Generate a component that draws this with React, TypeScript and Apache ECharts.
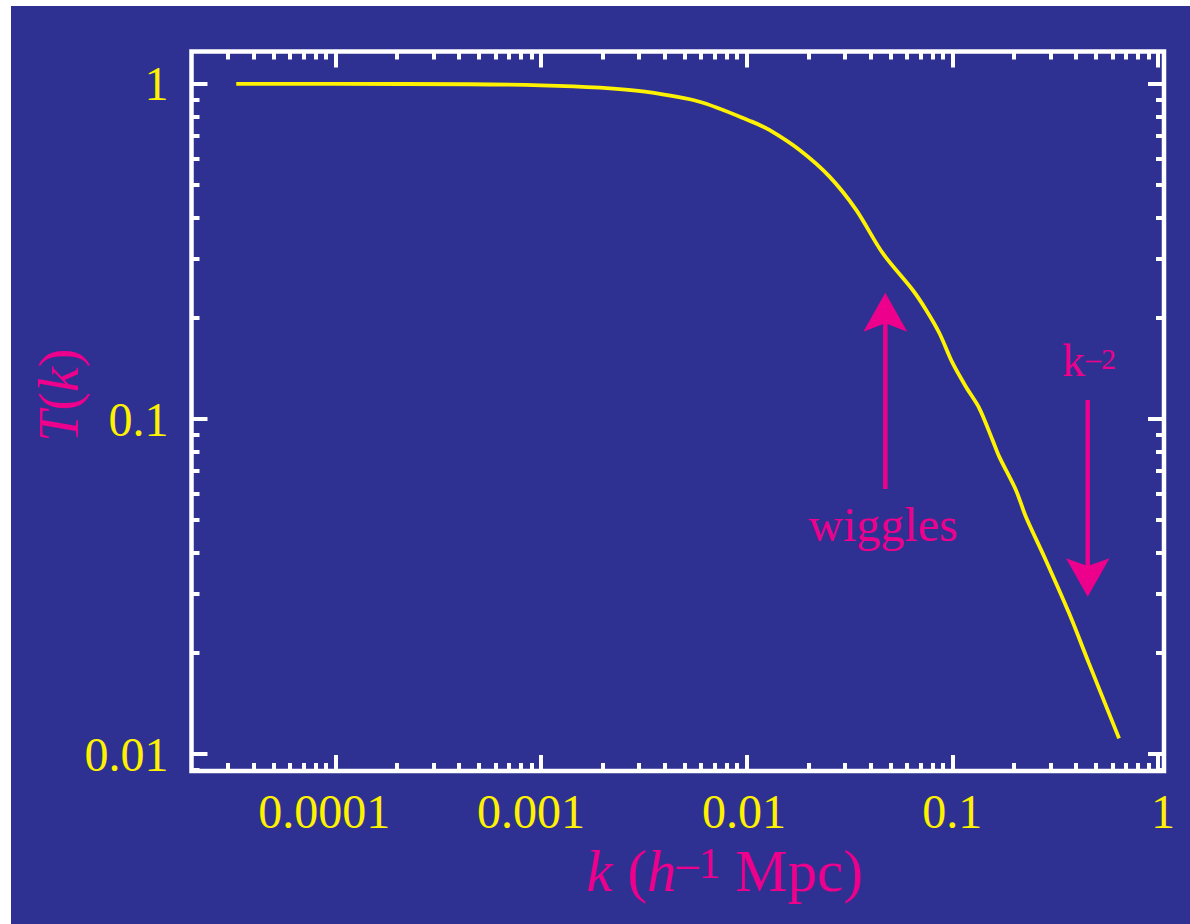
import React, { useEffect, useRef } from 'react';
import * as echarts from 'echarts';

// ---- data ----
const kValues = [
  3.3e-5, 1e-4, 4.5e-4, 1e-3, 1.93e-3, 3.2e-3, 5.9e-3, 0.0106, 0.0129, 0.0181,
  0.0253, 0.0341, 0.0459, 0.0642, 0.0746, 0.0865, 0.1003, 0.1165, 0.1352,
  0.1569, 0.1691, 0.2038, 0.2279, 0.285, 0.37, 0.462, 0.647,
];
const tValues = [
  1.0, 1.0, 0.998, 0.991, 0.975, 0.948, 0.885, 0.772, 0.729, 0.635,
  0.529, 0.421, 0.3125, 0.2427, 0.2116, 0.1806, 0.147, 0.1248, 0.1078,
  0.0866, 0.0772, 0.0614, 0.0511, 0.0379, 0.0263, 0.01865, 0.01114,
];

const xMajorTicks = [0.0001, 0.001, 0.01, 0.1, 1];
const xTickLabels = ['0.0001', '0.001', '0.01', '0.1', '1'];
const xMinorTicks = [
  0.00003, 0.00004, 0.00005, 0.00006, 0.00007, 0.00008, 0.00009,
  0.0002, 0.0003, 0.0004, 0.0005, 0.0006, 0.0007, 0.0008, 0.0009,
  0.002, 0.003, 0.004, 0.005, 0.006, 0.007, 0.008, 0.009,
  0.02, 0.03, 0.04, 0.05, 0.06, 0.07, 0.08, 0.09,
  0.2, 0.3, 0.4, 0.5, 0.6, 0.7, 0.8, 0.9,
];
const yMajorTicks = [0.01, 0.1, 1];
const yTickLabels = ['0.01', '0.1', '1'];
const yMinorTicks = [
  0.009,
  0.02, 0.03, 0.04, 0.05, 0.06, 0.07, 0.08, 0.09,
  0.2, 0.3, 0.4, 0.5, 0.6, 0.7, 0.8, 0.9,
];

// horizontal nudges (px) of the x tick labels, as placed in the reference
const xLabelShift = [-11, -10, -2.5, 0, 5];

const X_MIN = 2e-5;
const X_MAX = 1.07;
const Y_MIN = 0.0089;
const Y_MAX = 1.25;

const BG = '#2E3192';
const YELLOW = '#FFF200';
const MAGENTA = '#EC008C';
const FONT = "'Liberation Serif', 'Times New Roman', serif";

function findIndex(v: number, ticks: number[]) {
  return ticks.findIndex((t) => Math.abs(Math.log10(t) - Math.log10(v)) < 1e-6);
}

function makeAxis(
  kind: 'x' | 'y',
  position: string,
  values: number[],
  len: number,
  label: any,
  extra: any = {}
) {
  return {
    type: 'log',
    logBase: 10,
    min: kind === 'x' ? X_MIN : Y_MIN,
    max: kind === 'x' ? X_MAX : Y_MAX,
    position,
    gridIndex: 0,
    axisLine: { show: false, onZero: false },
    splitLine: { show: false },
    minorTick: { show: false },
    minorSplitLine: { show: false },
    axisTick: {
      show: true,
      inside: true,
      length: len,
      customValues: values,
      lineStyle: { color: '#ffffff', width: 4 },
    },
    axisLabel: label || { show: false },
    ...extra,
  };
}

export default function App() {
  const ref = useRef<HTMLDivElement>(null);

  useEffect(() => {
    if (!ref.current) return;
    const chart = echarts.init(ref.current, undefined, { renderer: 'svg' });

    const xRich: any = {};
    xLabelShift.forEach((d, i) => {
      xRich['s' + i] = {
        color: YELLOW,
        fontFamily: FONT,
        fontSize: 48,
        padding: d < 0 ? [0, -2 * d, 0, 0] : [0, 0, 0, 2 * d],
      };
    });

    const xLabel = {
      show: true,
      customValues: xMajorTicks,
      color: YELLOW,
      fontFamily: FONT,
      fontSize: 48,
      margin: 16,
      rich: xRich,
      formatter: (v: number) => {
        const i = findIndex(v, xMajorTicks);
        return i >= 0 ? `{s${i}|${xTickLabels[i]}}` : '';
      },
    };
    const yLabel = {
      show: true,
      customValues: yMajorTicks,
      color: YELLOW,
      fontFamily: FONT,
      fontSize: 48,
      margin: 23,
      formatter: (v: number) => {
        const i = findIndex(v, yMajorTicks);
        return i >= 0 ? yTickLabels[i] : '';
      },
    };

    const option: any = {
      animation: false,
      textStyle: { fontFamily: FONT },
      grid: {
        left: 191.5,
        right: 26,
        top: 51.5,
        bottom: 153,
        show: true,
        borderColor: '#ffffff',
        borderWidth: 4.5,
        backgroundColor: 'transparent',
        containLabel: false,
        outerBoundsMode: 'none',
      },
      xAxis: [
        makeAxis('x', 'bottom', xMajorTicks, 16, xLabel, {
          name: '{i|k}{n| (}{i|h}{s|–1}{n| Mpc)}',
          nameLocation: 'middle',
          nameGap: 70,
          nameMoveOverlap: false,
          nameTextStyle: {
            color: MAGENTA,
            fontFamily: FONT,
            fontSize: 58,
            padding: [0, 0, 0, 94],
            rich: {
              i: { fontStyle: 'italic', fontSize: 59, color: MAGENTA, fontFamily: FONT },
              n: { fontSize: 59, color: MAGENTA, fontFamily: FONT },
              s: {
                fontSize: 44,
                color: MAGENTA,
                fontFamily: FONT,
                lineHeight: 42,
                verticalAlign: 'top',
              },
            },
          },
        }),
        makeAxis('x', 'bottom', xMinorTicks, 8, null),
        makeAxis('x', 'top', xMajorTicks, 16, null),
        makeAxis('x', 'top', xMinorTicks, 8, null),
      ],
      yAxis: [
        makeAxis('y', 'left', yMajorTicks, 16, yLabel, {
          name: '{i|T}{n|(}{i|k}{n|)}',
          nameLocation: 'middle',
          nameGap: 105,
          nameMoveOverlap: false,
          nameTextStyle: {
            color: MAGENTA,
            fontFamily: FONT,
            fontSize: 56,
            padding: [0, 0, 0, 32],
            rich: {
              i: { fontStyle: 'italic', fontSize: 56, color: MAGENTA, fontFamily: FONT },
              n: { fontSize: 56, color: MAGENTA, fontFamily: FONT },
            },
          },
        }),
        makeAxis('y', 'left', yMinorTicks, 8, null),
        makeAxis('y', 'right', yMajorTicks, 16, null),
        makeAxis('y', 'right', yMinorTicks, 8, null),
      ],
      series: [
        {
          type: 'line',
          xAxisIndex: 0,
          yAxisIndex: 0,
          data: kValues.map((k, i) => [k, tValues[i]]),
          showSymbol: false,
          smooth: 0.3,
          lineStyle: { color: YELLOW, width: 3.8 },
          z: 3,
        },
      ],
      graphic: [
        {
          type: 'rect',
          silent: true,
          z: -100,
          shape: { x: 11, y: 6, width: 1179, height: 918 },
          style: { fill: BG },
        },
        // "wiggles" arrow (pointing up)
        {
          type: 'line',
          silent: true,
          shape: { x1: 885.3, y1: 489, x2: 885.3, y2: 322 },
          style: { stroke: MAGENTA, lineWidth: 4.5 },
        },
        {
          type: 'polygon',
          silent: true,
          shape: {
            points: [
              [885.3, 292.7],
              [907.3, 331.7],
              [885.3, 323.3],
              [863.3, 331.7],
            ],
          },
          style: { fill: MAGENTA },
        },
        {
          type: 'text',
          silent: true,
          x: 883,
          y: 524,
          style: {
            text: 'wiggles',
            fill: MAGENTA,
            fontFamily: FONT,
            fontSize: 48,
            align: 'center',
            verticalAlign: 'middle',
          },
        },
        // k^-2 arrow (pointing down)
        {
          type: 'line',
          silent: true,
          shape: { x1: 1087.7, y1: 400, x2: 1087.7, y2: 568 },
          style: { stroke: MAGENTA, lineWidth: 4.5 },
        },
        {
          type: 'polygon',
          silent: true,
          shape: {
            points: [
              [1087.7, 596.7],
              [1066, 558.3],
              [1087.7, 566],
              [1109.5, 558.3],
            ],
          },
          style: { fill: MAGENTA },
        },
        {
          type: 'text',
          silent: true,
          x: 1062,
          y: 360.5,
          style: {
            text: 'k',
            fill: MAGENTA,
            fontFamily: FONT,
            fontSize: 46,
            align: 'left',
            verticalAlign: 'middle',
          },
        },
        {
          type: 'text',
          silent: true,
          x: 1086,
          y: 358,
          style: {
            text: '–2',
            fill: MAGENTA,
            fontFamily: FONT,
            fontSize: 30,
            align: 'left',
            verticalAlign: 'middle',
          },
        },
      ],
    };

    chart.setOption(option);
    return () => chart.dispose();
  }, []);

  return (
    <div
      ref={ref}
      style={{ position: 'absolute', left: 0, top: 0, width: 1190, height: 924, background: '#ffffff' }}
    />
  );
}
